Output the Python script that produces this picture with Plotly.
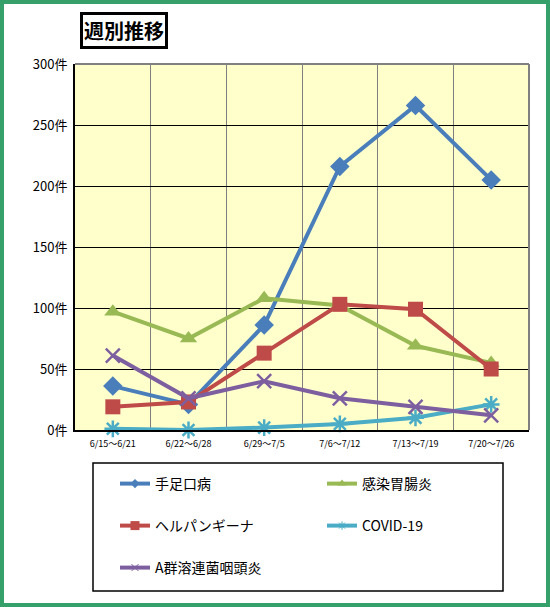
import plotly.graph_objects as go

categories = ["6/15～6/21", "6/22～6/28", "6/29～7/5", "7/6～7/12", "7/13～7/19", "7/20～7/26"]
hfmd = [36, 21, 86, 216, 266, 205]
gastro = [97, 75, 108, 102, 69, 55]
herpangina = [19, 23, 63, 103, 99, 50]
covid = [1, 0, 2, 5, 10, 21]
strep = [61, 26, 40, 26, 19, 12]
y_ticks = [0, 50, 100, 150, 200, 250, 300]
y_tick_text = [f"{v}件" for v in y_ticks]

W, H = 550, 607
L, R, T, B = 75, 21, 64, 177
PW, PH = W - L - R, H - T - B

def px(xp):
    return (xp - L) / PW

def py(yp):
    return (H - B - yp) / PH

FONT = "Noto Sans CJK JP"

series = [
    ("手足口病", hfmd, "#4a7ebb", dict(symbol="diamond", size=15), dict(symbol="diamond", size=7), "legend"),
    ("感染胃腸炎", gastro, "#98b954", dict(symbol="triangle-up", size=15), dict(symbol="triangle-up", size=8), "legend"),
    ("ヘルパンギーナ", herpangina, "#be4b48", dict(symbol="square", size=15), dict(symbol="square", size=9), "legend2"),
    ("COVID-19", covid, "#4bacc6", dict(symbol="asterisk", size=14, line=dict(width=2.5, color="#4bacc6")),
     dict(symbol="asterisk", size=7, line=dict(width=1, color="#4bacc6")), "legend2"),
    ("A群溶連菌咽頭炎", strep, "#7d5fa0", dict(symbol="x-thin", size=14, line=dict(width=2.5, color="#7d5fa0")),
     dict(symbol="x-thin", size=7, line=dict(width=1, color="#7d5fa0")), "legend3"),
]

fig = go.Figure()
for name, vals, color, marker, lmarker, lg in series:
    m = dict(color=color)
    m.update(marker)
    fig.add_trace(go.Scatter(
        x=categories, y=vals, name=name, mode="lines+markers",
        line=dict(color=color, width=4), marker=m, showlegend=False,
        cliponaxis=False,
    ))
for name, vals, color, marker, lmarker, lg in series:
    m = dict(color=color)
    m.update(lmarker)
    fig.add_trace(go.Scatter(
        x=[categories[0]], y=[None], name=name, mode="lines+markers",
        line=dict(color=color, width=4), marker=m, legend=lg, showlegend=True,
    ))

legend_common = dict(
    orientation="h", xanchor="left", yanchor="middle",
    font=dict(family=FONT, size=14, color="#000"),
    bgcolor="rgba(0,0,0,0)", entrywidth=162, entrywidthmode="pixels",
    itemclick=False,
)
fig.update_layout(
    width=W, height=H,
    margin=dict(l=L, r=R, t=T, b=B),
    paper_bgcolor="white",
    plot_bgcolor="#ffffcc",
    showlegend=True,
    legend=dict(x=px(115), y=py(484), **legend_common),
    legend2=dict(x=px(115), y=py(526), **legend_common),
    legend3=dict(x=px(115), y=py(568), **legend_common),
    xaxis=dict(
        type="category", tickson="boundaries", showgrid=True, gridcolor="#808080", gridwidth=1,
        showline=True, linecolor="#000", linewidth=2, mirror=False,
        ticks="", ticklabelstandoff=4,
        tickfont=dict(family=FONT, size=9, color="#000"),
        range=[-0.5, 5.5], fixedrange=True,
    ),
    yaxis=dict(
        range=[0, 300], tickvals=y_ticks, ticktext=y_tick_text,
        showgrid=True, gridcolor="#000", gridwidth=1.3,
        showline=True, linecolor="#000", linewidth=2, zeroline=False,
        tickfont=dict(family=FONT, size=13, color="#000"),
        ticks="", ticklabelstandoff=3, fixedrange=True,
    ),
    shapes=[
        dict(type="line", xref="paper", yref="paper", x0=0, x1=1, y0=1, y1=1, line=dict(color="#808080", width=2)),
        dict(type="line", xref="paper", yref="paper", x0=1, x1=1, y0=0, y1=1, line=dict(color="#808080", width=2)),
        dict(type="rect", xref="paper", yref="paper", x0=px(93), x1=px(503), y0=py(591), y1=py(463),
             line=dict(color="#000", width=1.5)),
        dict(type="rect", xref="paper", yref="paper", x0=px(2), x1=px(548), y0=py(605), y1=py(2),
             line=dict(color="#36a06a", width=4)),
    ],
    annotations=[
        dict(text="<b>週別推移</b>", xref="paper", yref="paper", x=px(80), y=py(12),
             xanchor="left", yanchor="top", showarrow=False,
             font=dict(family=FONT, size=20, color="#000"),
             bordercolor="#000", borderwidth=3, borderpad=1, bgcolor="white"),
    ],
)

fig.write_html("out.html", config={"displayModeBar": False},
               post_script="document.body.style.margin='0';document.body.style.overflow='hidden';")
